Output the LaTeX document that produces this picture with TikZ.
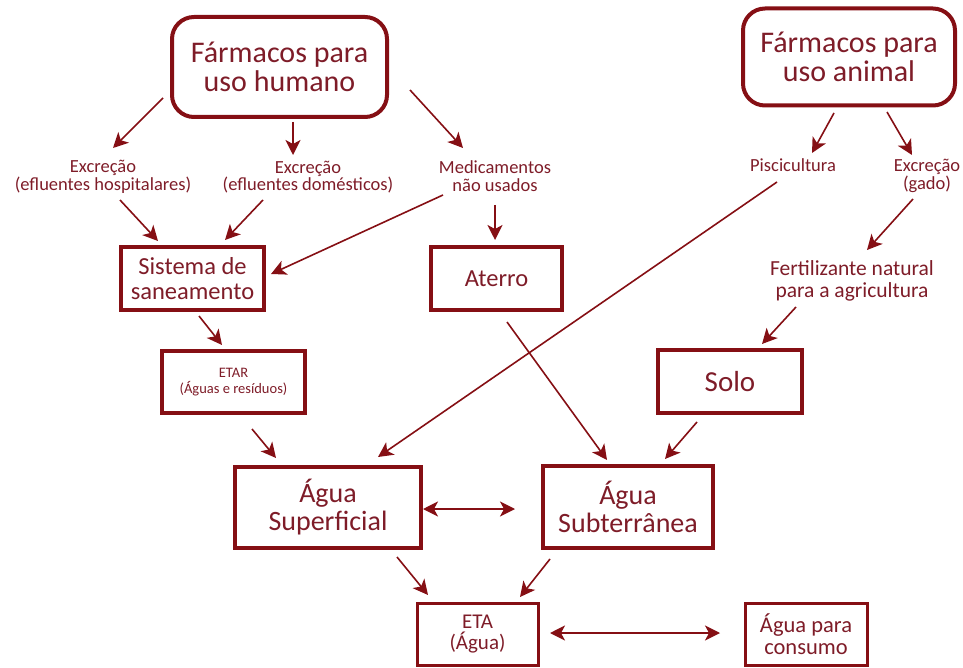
\documentclass[tikz,border=0pt]{standalone}
\usepackage{fontspec}
\setmainfont{Carlito}
\usetikzlibrary{arrows.meta}
\definecolor{bord}{HTML}{850F14}
\definecolor{txt}{HTML}{7E1C28}
\begin{document}
\begin{tikzpicture}[x=1pt,y=-1pt,
  every node/.style={text=txt, align=center, inner sep=0pt, outer sep=0pt},
  bigbox/.style={draw=bord, line width=4pt, rounded corners=22pt},
  box/.style={draw=bord, line width=3.3pt},
  smallbox/.style={draw=bord, line width=3pt},
  lbl/.style={font=\fontsize{18.5}{17.5}\selectfont},
  arr/.style={draw=bord, line width=1.6pt, -{Stealth[length=15pt,width=15pt,inset=4pt]}},
  darr/.style={draw=bord, line width=1.6pt, {Stealth[length=15pt,width=15pt,inset=4pt]}-{Stealth[length=15pt,width=15pt,inset=4pt]}}]
\useasboundingbox (0,0) rectangle (963,668);
% boxes
\node[bigbox, minimum width=215pt, minimum height=100pt, font=\fontsize{30}{29}\selectfont] (human) at (279.5,67) {Fármacos para\\uso humano};
\node[bigbox, minimum width=212pt, minimum height=97pt, font=\fontsize{30}{29}\selectfont] (animal) at (849,57) {Fármacos para\\uso animal};
\node[box, minimum width=143pt, minimum height=63pt, font=\fontsize{24.5}{25}\selectfont] (sist) at (192.5,278.5) {Sistema de\\saneamento};
\node[box, minimum width=131pt, minimum height=63pt, font=\fontsize{24.5}{25}\selectfont] (aterro) at (496.5,278.5) {Aterro};
\node[box, minimum width=143pt, minimum height=62pt, font=\fontsize{14.5}{16}\selectfont] (etar) at (233.5,382) {ETAR\\(Águas e resíduos)};
\node[box, minimum width=144pt, minimum height=63pt, font=\fontsize{29}{29}\selectfont] (solo) at (730,381.5) {Solo};
\node[box, minimum width=186pt, minimum height=81pt, font=\fontsize{28}{28}\selectfont] (sup) at (328,507.5) {Água\\Superficial};
\node[box, minimum width=170pt, minimum height=82pt, font=\fontsize{28}{28}\selectfont] (sub) at (628,507) {Água\\Subterrânea};
\node[smallbox, minimum width=121pt, minimum height=62pt, font=\fontsize{21}{21}\selectfont] (eta) at (477.5,634) {ETA\\(Água)};
\node[smallbox, minimum width=122pt, minimum height=62pt, font=\fontsize{22.5}{22}\selectfont] (cons) at (806,634) {Água para\\consumo};
% labels
\node[lbl] (exhosp) at (103,177) {Excreção\\(efluentes hospitalares)};
\node[lbl] (exdom) at (308,177) {Excreção\\(efluentes domésticos)};
\node[lbl] (medic) at (495,176) {Medicamentos\\não usados};
\node[lbl] (pisc) at (793,165) {Piscicultura};
\node[lbl] (exgado) at (927,176) {Excreção\\(gado)};
\node[font=\fontsize{21.5}{22}\selectfont] (fert) at (852,281) {Fertilizante natural\\para a agricultura};
% arrows
\draw[arr] ([shift={(-116.5,31)}]human.center) -- ([shift={(10,-29)}]exhosp.center);
\draw[arr] ([shift={(13.5,55)}]human.center) -- ([shift={(-15,-22)}]exdom.center);
\draw[arr] ([shift={(130.5,23)}]human.center) -- ([shift={(-32,-28)}]medic.center);
\draw[arr] ([shift={(17,23)}]exhosp.center) -- ([shift={(-34.5,-37.5)}]sist.center);
\draw[arr] ([shift={(-45,23)}]exdom.center) -- ([shift={(32.5,-38.5)}]sist.center);
\draw[arr] ([shift={(-52,19)}]medic.center) -- ([shift={(78.5,-4.5)}]sist.center);
\draw[arr] ([shift={(0,29)}]medic.center) -- ([shift={(-1.5,-38.5)}]aterro.center);
\draw[arr] ([shift={(-15,56)}]animal.center) -- ([shift={(19,-12)}]pisc.center);
\draw[arr] ([shift={(38,55)}]animal.center) -- ([shift={(-15,-21)}]exgado.center);
\draw[arr] ([shift={(-16,17)}]pisc.center) -- ([shift={(50,-50.5)}]sup.center);
\draw[arr] ([shift={(-14,23)}]exgado.center) -- ([shift={(15,-31)}]fert.center);
\draw[arr] ([shift={(-56,26)}]fert.center) -- ([shift={(32,-37.5)}]solo.center);
\draw[arr] ([shift={(6.5,37.5)}]sist.center) -- ([shift={(-11.5,-37)}]etar.center);
\draw[arr] ([shift={(18.5,47)}]etar.center) -- ([shift={(-52,-49.5)}]sup.center);
\draw[arr] ([shift={(10.5,43.5)}]aterro.center) -- ([shift={(-21,-47)}]sub.center);
\draw[arr] ([shift={(-33,40.5)}]solo.center) -- ([shift={(37,-48)}]sub.center);
\draw[darr] ([shift={(95,1.5)}]sup.center) -- ([shift={(-113,2)}]sub.center);
\draw[arr] ([shift={(69,49.5)}]sup.center) -- ([shift={(-49.5,-39)}]eta.center);
\draw[arr] ([shift={(-78,52)}]sub.center) -- ([shift={(42.5,-37)}]eta.center);
\draw[darr] ([shift={(72.5,-1)}]eta.center) -- ([shift={(-86,-1)}]cons.center);
\end{tikzpicture}
\end{document}
